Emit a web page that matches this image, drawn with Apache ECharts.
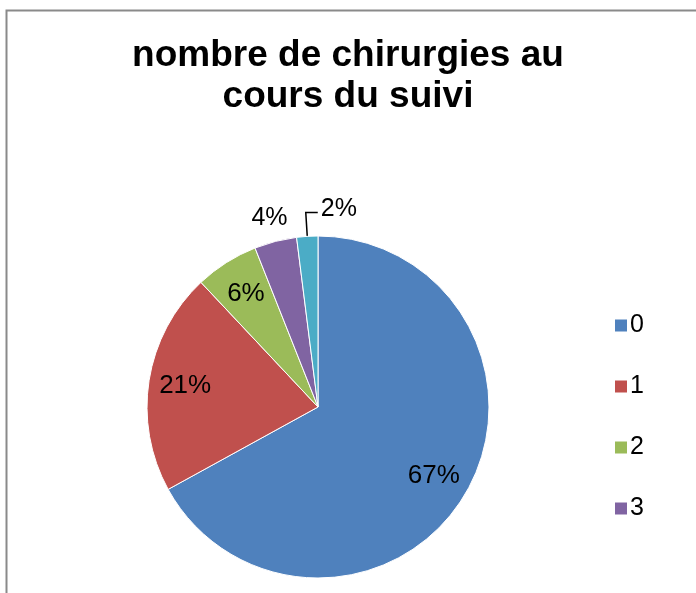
<!DOCTYPE html>
<html>
<head>
<meta charset="utf-8">
<script src="https://cdn.jsdelivr.net/npm/echarts@6/dist/echarts.min.js"></script>
<style>
  html, body { margin: 0; padding: 0; background: #fff; }
  #chart { width: 696px; height: 593px; }
</style>
</head>
<body>
<div id="chart"></div>
<script>
// nombre de chirurgies par patient, en %
const categories = ['0', '1', '2', '3', '4'];
const values = [67, 21, 6, 4, 2];
const legendItems = ['0', '1', '2', '3'];

const palette = ['#4F81BD', '#C0504D', '#9BBB59', '#8064A2', '#4BACC6'];
const font = 'Liberation Sans, Arial, sans-serif';
const center = [318, 407];
const R = 171;

const chart = echarts.init(document.getElementById('chart'));

// serie principale : les parts + les etiquettes exterieures (petites parts)
const mainData = categories.map((name, i) => ({
    name: name,
    value: values[i],
    itemStyle: { color: palette[i] },
    label: { show: i >= 3 },
    labelLine: {
        show: i >= 3,
        // pas de trait pour 4%, comme dans Excel
        lineStyle: { color: i === 4 ? '#000' : 'transparent', width: 1.5 }
    }
}));

// serie transparente pour placer les etiquettes interieures plus pres du bord
const labelData = categories.map((name, i) => ({
    name: name,
    value: values[i],
    label: { show: i < 3 }
}));

chart.setOption({
    animation: false,
    title: {
        text: 'nombre de chirurgies au\ncours du suivi',
        left: 'center',
        top: 30,
        textStyle: {
            fontFamily: font,
            fontSize: 37,
            fontWeight: 'bold',
            lineHeight: 41,
            color: '#000'
        }
    },
    legend: {
        data: legendItems,
        orient: 'vertical',
        left: 613,
        top: 313,
        padding: 0,
        icon: 'rect',
        itemWidth: 14,
        itemHeight: 14,
        itemGap: 36,
        selectedMode: false,
        textStyle: { fontFamily: font, fontSize: 25, lineHeight: 25, color: '#000', padding: [0, 0, 0, -3] }
    },
    graphic: [{
        type: 'rect',
        silent: true,
        shape: { x: 6.5, y: 10.5, width: 760, height: 660 },
        style: { fill: 'none', stroke: '#8a8a8a', lineWidth: 2 }
    }],
    series: [
        {
            type: 'pie',
            center: center,
            radius: R,
            startAngle: 90,
            clockwise: true,
            avoidLabelOverlap: false,
            itemStyle: { borderColor: '#fff', borderWidth: 1 },
            label: {
                position: 'outside',
                formatter: '{c}%',
                fontFamily: font,
                fontSize: 25,
                color: '#000'
            },
            labelLine: { length: 24, length2: 0, smooth: false },
            labelLayout: function (params) {
                const pts = params.labelLinePoints;
                if (!pts) return;
                const p1 = pts[1];
                if (params.dataIndex === 4) {
                    // trait coude vers la droite
                    return {
                        x: p1[0] + 15,
                        y: p1[1] - 3,
                        align: 'left',
                        verticalAlign: 'middle',
                        labelLinePoints: [pts[0], p1, [p1[0] + 12, p1[1]]]
                    };
                }
                return { x: p1[0], y: p1[1], align: 'center', verticalAlign: 'middle' };
            },
            emphasis: { disabled: true },
            data: mainData
        },
        {
            type: 'pie',
            center: center,
            radius: [92, R],
            startAngle: 90,
            clockwise: true,
            silent: true,
            itemStyle: { color: 'transparent' },
            label: {
                position: 'inside',
                formatter: '{c}%',
                fontFamily: font,
                fontSize: 26,
                color: '#000'
            },
            labelLine: { show: false },
            emphasis: { disabled: true },
            data: labelData
        }
    ]
});
</script>
</body>
</html>
